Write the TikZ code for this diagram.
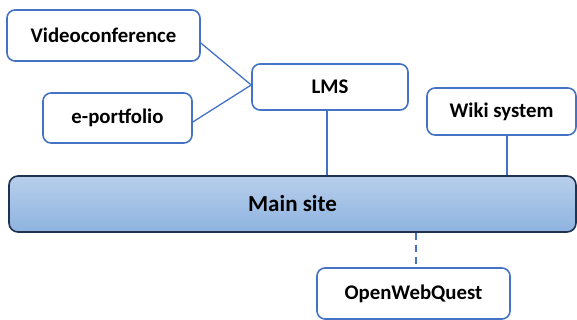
\documentclass[tikz,border=0pt]{standalone}
\usepackage{fontspec}
\setmainfont{Carlito}
\usetikzlibrary{positioning}
\definecolor{boxblue}{HTML}{4472C4}
\definecolor{navy}{HTML}{1F3350}
\definecolor{barTop}{HTML}{B8CFEB}
\definecolor{barBot}{HTML}{8EB3E0}
\tikzset{
  sysbox/.style={draw=boxblue, line width=1.6pt, rounded corners=8pt, fill=white,
    font=\fontsize{20.8}{25}\selectfont\bfseries, inner sep=0pt},
  link/.style={draw=boxblue, line width=1.3pt},
}
\begin{document}
\begin{tikzpicture}[x=1pt,y=-1pt]
\useasboundingbox (0,0) rectangle (577,320);
% main bar
\node[draw=navy, line width=1.6pt, rounded corners=9pt, top color=barTop, bottom color=barBot,
  minimum width=567pt, minimum height=56pt, inner sep=0pt,
  font=\fontsize{23}{27}\selectfont\bfseries] (main) at (292.5,204) {\raisebox{-2pt}{Main site}};
% attached systems
\node[sysbox, minimum width=193pt, minimum height=51pt] (vc) at (103.5,35.5) {Videoconference};
\node[sysbox, minimum width=149pt, minimum height=50pt] (ep) at (117.5,118) {e-portfolio};
\node[sysbox, minimum width=156pt, minimum height=46pt] (lms) at (330,87) {LMS};
\node[sysbox, minimum width=149pt, minimum height=47pt] (wiki) at (501.5,111.5) {Wiki system};
\node[sysbox, minimum width=193pt, minimum height=51pt] (owq) at (413.5,293.5) {OpenWebQuest};
% connectors
\draw[link] ([yshift=-7.5pt]vc.east) -- ([yshift=2pt]lms.west);
\draw[link] ([yshift=-4pt]ep.east) -- ([yshift=2pt]lms.west);
\draw[link] ([xshift=-3pt]lms.south) -- ([xshift=-3pt]lms.south |- main.north);
\draw[link] ([xshift=5.5pt]wiki.south) -- ([xshift=5.5pt]wiki.south |- main.north);
\draw[link, dashed, dash pattern=on 7pt off 5pt] ([xshift=2.5pt]owq.north |- main.south) -- ([xshift=2.5pt]owq.north);
\end{tikzpicture}
\end{document}
